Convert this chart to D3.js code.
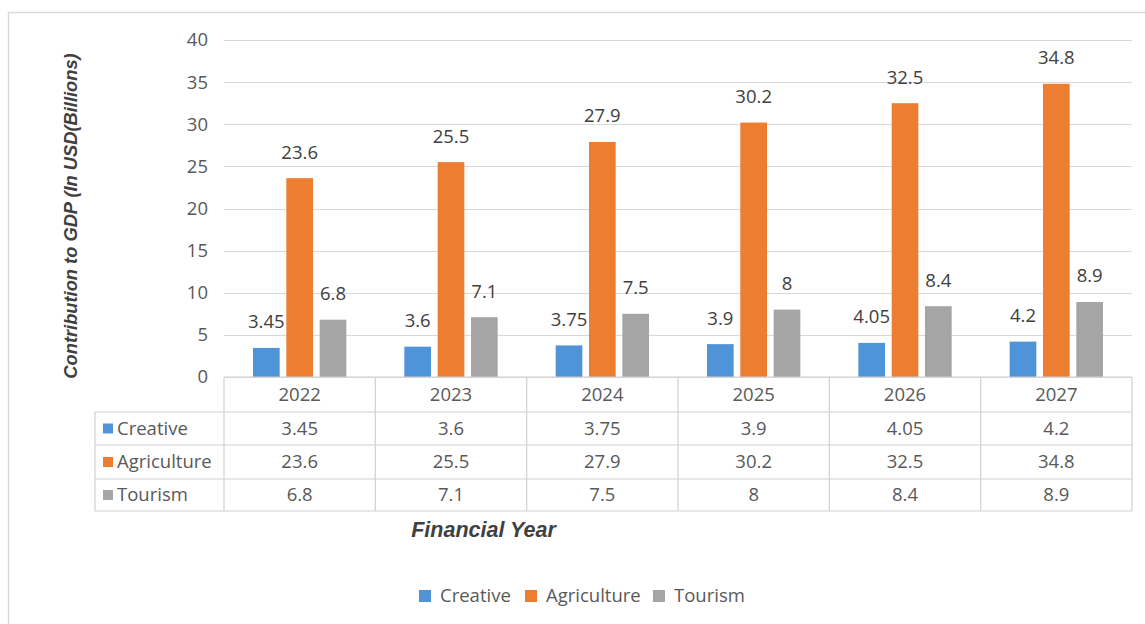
<!DOCTYPE html>
<html><head><meta charset="utf-8">
<script src="https://cdn.jsdelivr.net/npm/d3@7"></script>
<style>body{margin:0;background:#fff}</style>
</head><body><svg id="c" width="1145" height="624" font-family="Open Sans, sans-serif"></svg>
<script>
const years = ["2022","2023","2024","2025","2026","2027"];
const seriesNames = ["Creative","Agriculture","Tourism"];
const creative = [3.45,3.6,3.75,3.9,4.05,4.2];
const agriculture = [23.6,25.5,27.9,30.2,32.5,34.8];
const tourism = [6.8,7.1,7.5,8,8.4,8.9];
const yTicks = [0,5,10,15,20,25,30,35,40];
const colors = ["#4f93d8","#ed7d31","#a5a5a5"];
const values = [creative, agriculture, tourism];

const FS = 18.5;
const svg = d3.select("#c");
const L = 224, R = 1132, T = 40, B = 377;
const x0 = d3.scaleBand().domain(years).range([L, R]).padding(0);
const x1 = d3.scaleBand().domain(seriesNames).range([0, x0.bandwidth()]).paddingInner(0.2).paddingOuter(0.87);
const y = d3.scaleLinear().domain([0, 40]).range([B, T]);

// outer border
svg.append("path").attr("d","M8.5,624 V12.5 H1145").attr("fill","none").attr("stroke","#d9d9d9").attr("stroke-width",1.5);

// gridlines
svg.append("g").selectAll("line").data(yTicks).join("line")
  .attr("x1", L).attr("x2", R).attr("y1", d=>Math.round(y(d))+0.5).attr("y2", d=>Math.round(y(d))+0.5)
  .attr("stroke","#d9d9d9").attr("stroke-width",1.2);

// y axis labels
const yAxis = d3.axisLeft(y).tickValues(yTicks).tickSize(0).tickPadding(0);
const ya = svg.append("g").attr("transform",`translate(208,0)`).call(yAxis);
ya.select(".domain").remove();
ya.attr("font-family",null).attr("font-size",null);
ya.selectAll("text").attr("font-size",FS).attr("fill","#595959");

// bars
const groups = svg.append("g").selectAll("g").data(years).join("g").attr("transform", d=>`translate(${x0(d)},0)`);
groups.selectAll("rect").data((d,i)=>seriesNames.map((s,j)=>({s, v: values[j][i], c: colors[j]}))).join("rect")
  .attr("x", d=>x1(d.s)).attr("width", x1.bandwidth()).attr("y", d=>y(d.v)).attr("height", d=>y(0)-y(d.v)).attr("fill", d=>d.c);
groups.selectAll("text.lbl").data((d,i)=>seriesNames.map((s,j)=>({s, v: values[j][i]}))).join("text").attr("class","lbl")
  .attr("x", d=>x1(d.s)+x1.bandwidth()/2).attr("y", d=>y(d.v)-26).attr("dy","0.35em").attr("text-anchor","middle")
  .attr("font-size",FS).attr("fill","#404040").text(d=>d.v);

// data table
const rowTop = [377, 412, 445, 479, 511];
const lc = "#d0d0d0";
const tbl = svg.append("g").attr("fill","none").attr("stroke",lc).attr("stroke-width",1.2);
tbl.append("line").attr("x1",L).attr("x2",R).attr("y1",rowTop[0]).attr("y2",rowTop[0]);
[1,2,3,4].forEach(k=>tbl.append("line").attr("x1",95).attr("x2",R).attr("y1",rowTop[k]).attr("y2",rowTop[k]));
tbl.append("line").attr("x1",95).attr("x2",95).attr("y1",rowTop[1]).attr("y2",rowTop[4]);
years.forEach(yr=>tbl.append("line").attr("x1",x0(yr)).attr("x2",x0(yr)).attr("y1",rowTop[0]).attr("y2",rowTop[4]));
tbl.append("line").attr("x1",R).attr("x2",R).attr("y1",rowTop[0]).attr("y2",rowTop[4]);

svg.append("g").selectAll("text").data(years).join("text")
  .attr("x", d=>x0(d)+x0.bandwidth()/2).attr("y",(rowTop[0]+rowTop[1])/2).attr("dy","0.35em")
  .attr("text-anchor","middle").attr("font-size",FS).attr("fill","#595959").text(d=>d);

seriesNames.forEach((s,j)=>{
  const yc = (rowTop[j+1]+rowTop[j+2])/2;
  svg.append("rect").attr("x",103).attr("y",yc-5).attr("width",10).attr("height",10).attr("fill",colors[j]);
  svg.append("text").attr("x",117).attr("y",yc).attr("dy","0.35em").attr("font-size",FS).attr("fill","#595959").text(s);
  svg.append("g").selectAll("text").data(years).join("text")
    .attr("x", d=>x0(d)+x0.bandwidth()/2).attr("y",yc).attr("dy","0.35em")
    .attr("text-anchor","middle").attr("font-size",FS).attr("fill","#595959").text((d,i)=>values[j][i]);
});

// axis titles
svg.append("text").attr("transform","translate(77,216) rotate(-90)").attr("text-anchor","middle")
  .attr("font-family","Liberation Sans, Arial, sans-serif").attr("font-weight","bold").attr("font-style","italic")
  .attr("font-size",18.3).attr("fill","#404040").text("Contribution to GDP (In USD(Billions)");
svg.append("text").attr("x",483.5).attr("y",529).attr("dy","0.35em").attr("text-anchor","middle")
  .attr("font-family","Liberation Sans, Arial, sans-serif").attr("font-weight","bold").attr("font-style","italic")
  .attr("font-size",21.5).attr("fill","#404040").text("Financial Year");

// legend
const legX = [419, 525, 653];
seriesNames.forEach((s,j)=>{
  svg.append("rect").attr("x",legX[j]).attr("y",590).attr("width",12).attr("height",12).attr("fill",colors[j]);
  svg.append("text").attr("x",legX[j]+21).attr("y",596).attr("dy","0.35em").attr("font-size",18.5).attr("fill","#595959").text(s);
});
</script></body></html>
